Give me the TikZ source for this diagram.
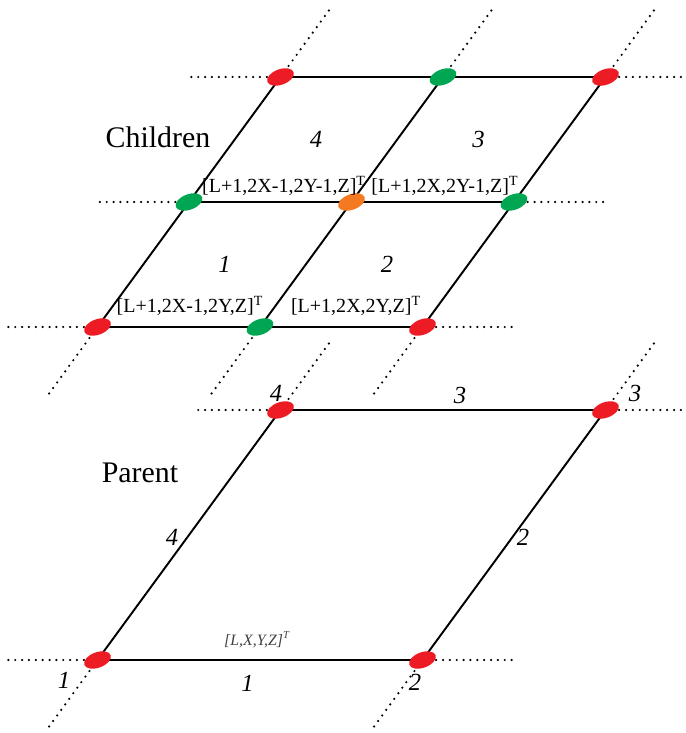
\documentclass[tikz,border=0pt]{standalone}
\usepackage{fontspec}
\setmainfont{Liberation Serif}
\usetikzlibrary{shapes.geometric}

\definecolor{knotred}{HTML}{ED1C24}
\definecolor{knotgreen}{HTML}{00A651}
\definecolor{knotorange}{HTML}{F47920}

\tikzset{
  edge/.style={line width=1.1pt},
  ext/.style={line width=1.4pt,dash pattern=on 0pt off 3.9pt},
  knot/.style={ellipse,rotate=20,minimum width=0.56cm,
    minimum height=0.31cm,inner sep=0pt,draw=none},
  cellnum/.style={font=\fontsize{14}{16}\selectfont\itshape},
  idx/.style={font=\fontsize{11.4}{13}\selectfont},
  title/.style={font=\fontsize{17}{20}\selectfont}
}

\begin{document}
\begin{tikzpicture}[
  line cap=round,
  line join=round
]
  \useasboundingbox (-1.95,-1.46) rectangle (11.75,13.2);

  % Родительская ячейка
  \coordinate (p1) at (0,0);
  \coordinate (p2) at (6.5,0);
  \coordinate (p3) at (10.16,5);
  \coordinate (p4) at (3.66,5);

  % Дочерние ячейки: сетка 3x3 узлов
  \coordinate (c00) at (0,6.66);
  \coordinate (c10) at (3.25,6.66);
  \coordinate (c20) at (6.5,6.66);
  \coordinate (c01) at (1.83,9.16);
  \coordinate (c11) at (5.08,9.16);
  \coordinate (c21) at (8.33,9.16);
  \coordinate (c02) at (3.66,11.66);
  \coordinate (c12) at (6.91,11.66);
  \coordinate (c22) at (10.16,11.66);

  % Продолжения сетки (пунктир)
  \draw[ext] (p1) -- ++(-1.8,0);
  \draw[ext] (p1) -- ++(-1.02,-1.4);
  \draw[ext] (p2) -- ++(1.8,0);
  \draw[ext] (p2) -- ++(-1.02,-1.4);
  \draw[ext] (p4) -- ++(-1.75,0);
  \draw[ext] (p4) -- ++(1.02,1.4);
  \draw[ext] (p3) -- ++(1.8,0);
  \draw[ext] (p3) -- ++(1.02,1.4);

  \draw[ext] (c00) -- ++(-1.8,0);
  \draw[ext] (c00) -- ++(-1.02,-1.4);
  \draw[ext] (c10) -- ++(-1.02,-1.4);
  \draw[ext] (c20) -- ++(1.8,0);
  \draw[ext] (c20) -- ++(-1.02,-1.4);
  \draw[ext] (c01) -- ++(-1.8,0);
  \draw[ext] (c21) -- ++(1.8,0);
  \draw[ext] (c02) -- ++(-1.8,0);
  \draw[ext] (c02) -- ++(1.02,1.4);
  \draw[ext] (c12) -- ++(1.02,1.4);
  \draw[ext] (c22) -- ++(1.02,1.4);
  \draw[ext] (c22) -- ++(1.8,0);

  % Рёбра
  \draw[edge] (p1) -- (p2) -- (p3) -- (p4) -- cycle;

  \draw[edge] (c00) -- (c20);
  \draw[edge] (c01) -- (c21);
  \draw[edge] (c02) -- (c22);
  \draw[edge] (c00) -- (c02);
  \draw[edge] (c10) -- (c12);
  \draw[edge] (c20) -- (c22);

  % Узлы
  \node[knot,fill=knotred] (k1) at (p1) {};
  \node[knot,fill=knotred] (k2) at (p2) {};
  \node[knot,fill=knotred] (k3) at (p3) {};
  \node[knot,fill=knotred] (k4) at (p4) {};

  \node[knot,fill=knotred] (n00) at (c00) {};
  \node[knot,fill=knotgreen] (n10) at (c10) {};
  \node[knot,fill=knotred] (n20) at (c20) {};
  \node[knot,fill=knotgreen] (n01) at (c01) {};
  \node[knot,fill=knotorange] (n11) at (c11) {};
  \node[knot,fill=knotgreen] (n21) at (c21) {};
  \node[knot,fill=knotred] (n02) at (c02) {};
  \node[knot,fill=knotgreen] (n12) at (c12) {};
  \node[knot,fill=knotred] (n22) at (c22) {};

  % Подписи
  \node[title] (children) at (1.21,10.46) {Children};
  \node[title] (parent) at (0.85,3.74) {Parent};

  \node[idx] (i1) at (3.73,9.48) {[L+1,2X-1,2Y-1,Z]\textsuperscript{T}};
  \node[idx] (i2) at (6.95,9.48) {[L+1,2X,2Y-1,Z]\textsuperscript{T}};
  \node[idx] (i3) at (1.85,7.08) {[L+1,2X-1,2Y,Z]\textsuperscript{T}};
  \node[idx] (i4) at (5.17,7.08) {[L+1,2X,2Y,Z]\textsuperscript{T}};

  \node[cellnum] (s1) at (2.54,7.91) {1};
  \node[cellnum] (s2) at (5.79,7.91) {2};
  \node[cellnum] (s3) at (7.62,10.41) {3};
  \node[cellnum] (s4) at (4.37,10.41) {4};

  \node[font=\fontsize{9}{10}\selectfont\itshape,text=black!75] (pidx)
    at (3.19,0.4) {[L,X,Y,Z]\textsuperscript{T}};

  \node[cellnum] (v1) at (-0.67,-0.4) {1};
  \node[cellnum] (v2) at (6.35,-0.44) {2};
  \node[cellnum] (v3) at (10.75,5.34) {3};
  \node[cellnum] (v4) at (3.57,5.34) {4};

  \node[cellnum] (e1) at (3.0,-0.46) {1};
  \node[cellnum] (e2) at (8.51,2.46) {2};
  \node[cellnum] (e3) at (7.25,5.3) {3};
  \node[cellnum] (e4) at (1.49,2.46) {4};
\end{tikzpicture}
\end{document}
